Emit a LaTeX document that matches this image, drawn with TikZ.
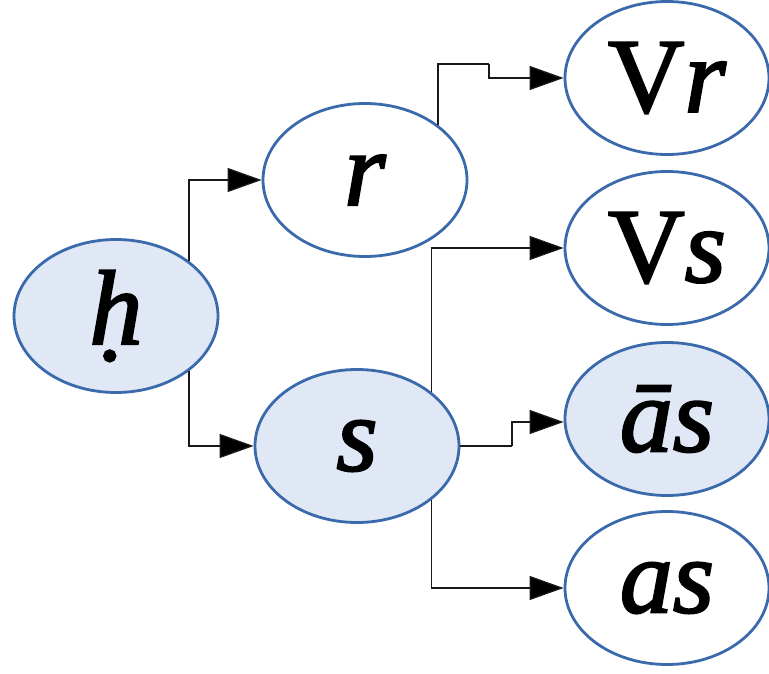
\documentclass[tikz,border=0pt]{standalone}
\usepackage{fontspec}
\setmainfont{Liberation Serif}
\newfontfamily\labelfont{Liberation Serif}[FakeBold=2]
\usetikzlibrary{shapes.geometric,arrows.meta}
\definecolor{edgeblue}{HTML}{3A69AC}
\definecolor{fillblue}{HTML}{DFE8F4}
\begin{document}
\begin{tikzpicture}[x=1pt,y=-1pt,
  ell/.style={ellipse,draw=edgeblue,line width=2.8pt,minimum width=204pt,minimum height=153pt,inner sep=0pt,
    font=\labelfont\fontsize{106}{110}\selectfont},
  filled/.style={ell,fill=fillblue},
  plain/.style={ell,fill=white},
  conn/.style={draw=black!90,line width=1.3pt,-{Triangle[length=34pt,width=24pt,fill=black]}},
  link/.style={draw=black!90,line width=1.3pt}]
\useasboundingbox (0,0) rectangle (769,674);
\node[filled] (h) at (116,316) {\textit{ḥ}};
\node[plain]  (r) at (365,180) {\textit{r}};
\node[filled] (s) at (357,446) {\textit{s}};
\node[plain]  (vr) at (667,78) {V\textit{r}};
\node[plain]  (vs) at (667,248) {V\textit{s}};
\node[filled] (abar) at (667,419) {\textit{ās}};
\node[plain]  (as) at (667,588) {\textit{as}};
\coordinate (rbend) at (489,64);
\coordinate (sbend) at (512,0);
\draw[conn] (h.37) |- (r.west);
\draw[conn] (h.-37) |- (s.west);
\draw[link] (r.37) |- (rbend);
\draw[conn] (rbend) |- (vr.west);
\draw[conn] (s.36) |- (vs.west);
\draw[conn] (s.-36) |- (as.west);
\draw[link] (s.east) -- (sbend |- s.east);
\draw[conn] (sbend |- s.east) |- ([yshift=-3pt]abar.west);
\end{tikzpicture}
\end{document}
